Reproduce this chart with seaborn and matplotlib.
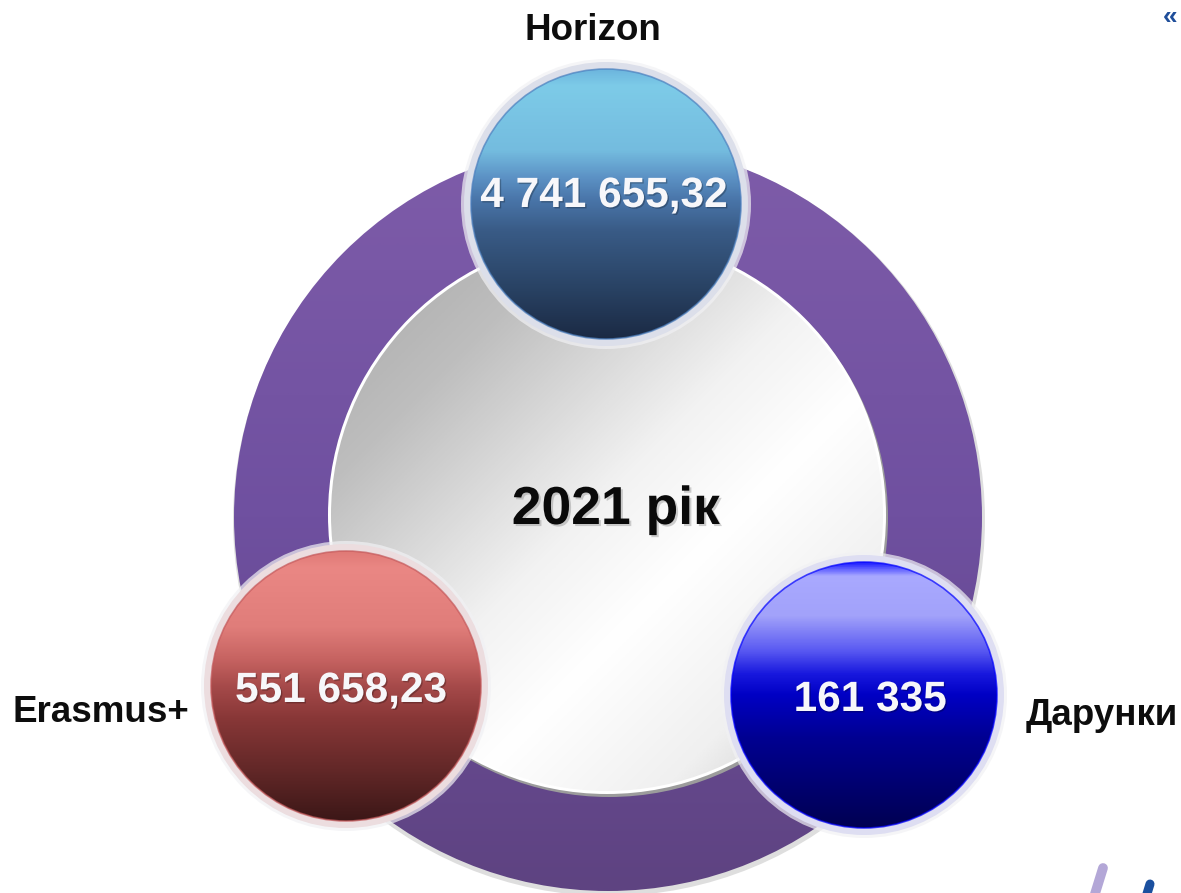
import numpy as np
import pandas as pd
import matplotlib
matplotlib.use("Agg")
import matplotlib.pyplot as plt
import seaborn as sns
from matplotlib.patches import Circle
from matplotlib.colors import LinearSegmentedColormap
import matplotlib.patheffects as pe

# ---- data ----
categories = ["Horizon", "Erasmus+", "Дарунки"]
values = ["4 741 655,32", "551 658,23", "161 335"]
center_label = "2021 рік"

# ---- layout (pixels) ----
W, H = 1181, 893
bubble_x = [606, 346, 864]
bubble_y = [204, 686, 695]
bubble_r = [142, 142, 140]
value_xy = [(604, 207), (341, 702), (870, 711)]
label_xy = [(593, 40), (101, 722), (1102, 725)]

rim_colors = ["#DCDFEA", "#ECDDDF", "#DEDEF2"]
edge_colors = ["#4A7EBE", "#C4585A", "#0000FF"]
grad_stops = [
    [(0.0, "#6DB6DE"), (0.06, "#7DCBE8"), (0.30, "#74BCDF"), (0.40, "#5C92C5"),
     (0.48, "#4A76AA"), (0.60, "#395B86"), (0.80, "#2A4466"), (1.0, "#1B2A44")],
    [(0.0, "#E07A76"), (0.06, "#EA8784"), (0.28, "#E07D7A"), (0.40, "#C66361"),
     (0.50, "#A64A4A"), (0.62, "#883737"), (0.82, "#612727"), (1.0, "#3C1717")],
    [(0.0, "#2020FF"), (0.05, "#A9A9FF"), (0.20, "#A2A2FA"), (0.33, "#5A5AF2"),
     (0.42, "#1818DE"), (0.50, "#0000C4"), (0.66, "#000092"), (1.0, "#000052")],
]

sns.set_theme(style="white")
plt.rcParams['font.family'] = ['Liberation Sans', 'DejaVu Sans']

fig = plt.figure(figsize=(W / 100, H / 100), dpi=100)
ax = fig.add_axes([0, 0, 1, 1])
ax.set_xlim(0, W)
ax.set_ylim(H, 0)
ax.axis('off')


def gradient_disc(cx, cy, r, stops, zorder, diag=False, n=400):
    cmap = LinearSegmentedColormap.from_list('g', stops)
    if diag:
        yy, xx = np.mgrid[0:1:n * 1j, 0:1:n * 1j]
        t = (xx + yy) / 2
    else:
        t = np.tile(np.linspace(0, 1, n)[:, None], (1, 2))
    img = cmap(t)
    clip = Circle((cx, cy), r, transform=ax.transData, facecolor='none', edgecolor='none')
    ax.add_patch(clip)
    im = ax.imshow(img, extent=(cx - r, cx + r, cy + r, cy - r), origin='upper',
                   zorder=zorder, interpolation='bilinear', aspect='auto')
    im.set_clip_path(clip)


# big purple ring
ring_c = (608, 517)
ax.add_patch(Circle((ring_c[0] + 1, ring_c[1] + 3), 376, color="#C8C8C8", alpha=0.6, zorder=1, lw=0))
gradient_disc(ring_c[0], ring_c[1], 374, [(0, "#7E5CA9"), (0.5, "#6F50A0"), (1, "#5E4381")], zorder=2)

# inner white disc
inner_c = (607, 515)
ax.add_patch(Circle((inner_c[0] + 2, inner_c[1] + 3), 279, color="#9C9C9C", zorder=3, lw=0))
ax.add_patch(Circle(inner_c, 279, color="white", zorder=3.1, lw=0))
gradient_disc(inner_c[0], inner_c[1], 276,
              [(0, "#A6A6A6"), (0.22, "#BEBEBE"), (0.48, "#F2F2F2"), (0.62, "#FFFFFF"),
               (0.80, "#F0F0F0"), (1.0, "#BDBDBD")], zorder=3.2, diag=True)

# bubbles: glow + rim via seaborn scatter, gradient interiors
df = pd.DataFrame({"category": categories, "x": bubble_x, "y": bubble_y})
glow_sizes = {c: (2 * (r + 3) * 0.72) ** 2 for c, r in zip(categories, bubble_r)}
rim_sizes = {c: (2 * r * 0.72) ** 2 for c, r in zip(categories, bubble_r)}
sns.scatterplot(data=df, x="x", y="y", hue="category", size="category",
                palette={c: "#F1F1F4" for c in categories}, sizes=glow_sizes,
                linewidth=0, legend=False, ax=ax, zorder=4, alpha=0.7)
sns.scatterplot(data=df, x="x", y="y", hue="category", size="category",
                palette=dict(zip(categories, rim_colors)), sizes=rim_sizes,
                linewidth=0, legend=False, ax=ax, zorder=5)
ax.axis('off')

for i in range(3):
    cx, cy, r = bubble_x[i], bubble_y[i], bubble_r[i]
    gradient_disc(cx, cy, r - 7, grad_stops[i], zorder=6)
    ax.add_patch(Circle((cx, cy), r - 7, facecolor='none', edgecolor=edge_colors[i],
                        lw=1.2, alpha=0.7, zorder=6.5))

# texts
shadow = [pe.withSimplePatchShadow(offset=(1, -1), shadow_rgbFace='black', alpha=0.25)]
for i in range(3):
    vx, vy = value_xy[i]
    ax.text(vx, vy, values[i], ha='center', va='baseline', fontsize=30.5,
            fontweight='bold', color='#F7F7FA', zorder=8, path_effects=shadow)
    lx, ly = label_xy[i]
    ax.text(lx, ly, categories[i], ha='center', va='baseline', fontsize=26.5,
            fontweight='bold', color='#0D0D0D', zorder=8)

ax.text(616, 524, center_label, ha='center', va='baseline', fontsize=38.5,
        fontweight='bold', color='#0A0A0A', zorder=8,
        path_effects=[pe.withSimplePatchShadow(offset=(1.5, -1.5), shadow_rgbFace='#888888', alpha=0.4)])

# decorations
ax.text(1170, 24, "«", ha='center', va='baseline', fontsize=19, fontweight='bold',
        color='#1F4E9A', zorder=8)
ax.plot([1103, 1094], [868, 897], lw=7, color='#B3A7D7', solid_capstyle='round', zorder=8)
ax.plot([1150, 1146], [884, 897], lw=6.5, color='#1B509F', solid_capstyle='round', zorder=8)

ax.set_xlim(0, W)
ax.set_ylim(H, 0)
fig.savefig("out.png", dpi=100)
